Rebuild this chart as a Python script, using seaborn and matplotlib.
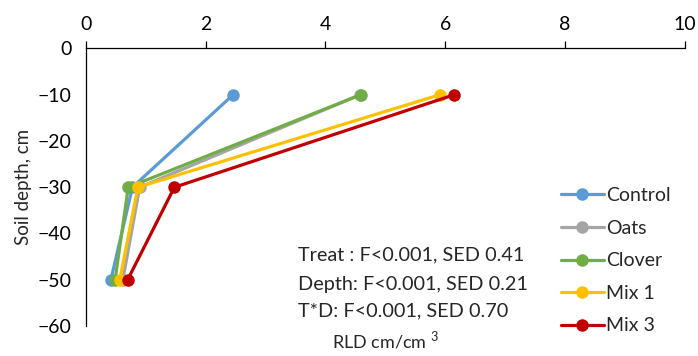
import numpy as np
import pandas as pd
import matplotlib
matplotlib.use("Agg")
import matplotlib.pyplot as plt
import seaborn as sns

# Root length density (cm/cm^3) by soil depth for each cover treatment
depths = [-10, -30, -50]
treatments = ["Control", "Oats", "Clover", "Mix 1", "Mix 3"]
control = [2.46, 0.78, 0.42]
oats = [4.58, 0.90, 0.62]
clover = [4.59, 0.71, 0.49]
mix1 = [5.91, 0.87, 0.57]
mix3 = [6.15, 1.48, 0.70]
colors = ["#5B9BD5", "#A5A5A5", "#70AD47", "#FFC000", "#C00000"]

stats_lines = [
    "Treat : F<0.001, SED 0.41",
    "Depth: F<0.001, SED 0.21",
    "T*D: F<0.001, SED 0.70",
]

x_ticks = [0, 2, 4, 6, 8, 10]
y_ticks = [0, -10, -20, -30, -40, -50, -60]

rows = []
for name, vals in zip(treatments, [control, oats, clover, mix1, mix3]):
    for d, v in zip(depths, vals):
        rows.append({"Treatment": name, "Depth": d, "RLD": v})
df = pd.DataFrame(rows)

sns.set_style("white")
plt.rcParams["font.family"] = ["Lato", "DejaVu Sans"]
plt.rcParams["mathtext.fontset"] = "custom"
plt.rcParams["mathtext.rm"] = "Lato"

fig = plt.figure(figsize=(6.98, 3.56), dpi=100)
ax = fig.add_axes([0.1228, 0.0843, 0.8586, 0.7795])

sns.lineplot(
    data=df, x="RLD", y="Depth", hue="Treatment", hue_order=treatments,
    palette=colors, sort=False, estimator=None, orient="y",
    marker="o", markersize=9, markeredgewidth=0, linewidth=2.3,
    legend=False, ax=ax,
)

ax.set_xlim(0, 10)
ax.set_ylim(-60, 0)
ax.set_xticks(x_ticks)
ax.set_yticks(y_ticks)
ax.xaxis.tick_top()
ax.xaxis.set_label_position("bottom")
for s in ["bottom", "right"]:
    ax.spines[s].set_visible(False)
for s in ["top", "left"]:
    ax.spines[s].set_color("black")
    ax.spines[s].set_linewidth(0.9)
ax.tick_params(axis="x", which="major", direction="out", length=5, width=0.9,
               colors="black", labelsize=14, pad=6, top=True, bottom=False)
ax.tick_params(axis="y", which="major", direction="out", length=6, width=0.9,
               colors="black", labelsize=14, pad=4)
ax.set_ylabel("Soil depth, cm", fontsize=13.5, labelpad=4)
ax.set_xlabel("RLD cm/cm $^{3}$", fontsize=13, labelpad=2)

handles = ax.get_lines()[:len(treatments)]
ax.legend(handles, treatments, loc="upper left", bbox_to_anchor=(0.793, 0.50),
          frameon=False, fontsize=14, handlelength=2.2, handletextpad=0.1,
          labelspacing=0.8, borderaxespad=0.0, borderpad=0.0)

ty = [0.255, 0.148, 0.055]
for t, y in zip(stats_lines, ty):
    ax.text(0.354, y, t, transform=ax.transAxes, fontsize=14.3, va="center", ha="left")

fig.savefig("out.png", dpi=100)
